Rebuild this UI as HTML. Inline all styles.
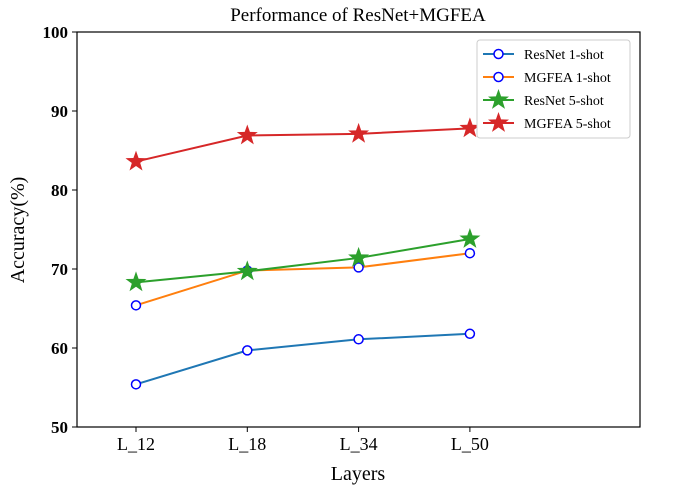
<!DOCTYPE html>
<html><head><meta charset="utf-8"><style>body{margin:0;background:#fff}svg{display:block}</style></head>
<body>
<svg id="chart" width="673" height="488" xmlns="http://www.w3.org/2000/svg" font-family="Liberation Serif, serif">
<text x="358" y="21" text-anchor="middle" font-size="19">Performance of ResNet+MGFEA</text>
<rect x="77" y="32" width="563" height="395" fill="none" stroke="#000" stroke-width="1.2"/>
<g id="yticks"></g><g id="xticks"></g><g id="series"></g>
<text x="358" y="480" text-anchor="middle" font-size="20">Layers</text>
<text transform="translate(24,230) rotate(-90)" text-anchor="middle" font-size="20">Accuracy(%)</text>
<g id="legend">
<rect x="477" y="40" width="153" height="98" rx="3" fill="#fff" stroke="#ccc"/>
</g>
</svg>
<script>
const categories=["L_12","L_18","L_34","L_50"];
const yTicks=[50,60,70,80,90,100];
const resnet1=[55.4,59.7,61.1,61.8];
const mgfea1=[65.4,69.8,70.2,72.0];
const resnet5=[68.3,69.7,71.4,73.8];
const mgfea5=[83.6,86.9,87.1,87.8];
const NS="http://www.w3.org/2000/svg";
function X(i){return 136+i*111.3;}
function Y(v){return 427-(v-50)*7.9;}
function mk(t,a,p){const e=document.createElementNS(NS,t);for(const k in a)e.setAttribute(k,a[k]);p.appendChild(e);return e;}
const yg=document.getElementById('yticks');
yTicks.forEach(v=>{const l=mk('line',{x1:72,x2:77,y1:Y(v),y2:Y(v),stroke:'#000'},yg);


const t=mk('text',{x:68,y:Y(v)+6,'text-anchor':'end','font-size':17,'font-weight':'bold'},yg);t.textContent=v;

});
const xg=document.getElementById('xticks');
categories.forEach((c,i)=>{mk('line',{x1:X(i),x2:X(i),y1:427,y2:432,stroke:'#000'},xg);
const t=mk('text',{x:X(i),y:450,'text-anchor':'middle','font-size':18},xg);t.textContent=c;

});
function star(cx,cy,r){let p=[];for(let k=0;k<10;k++){const rr=k%2?r*0.4:r;const a=-Math.PI/2+k*Math.PI/5;p.push((cx+rr*Math.cos(a)).toFixed(1)+','+(cy+rr*Math.sin(a)).toFixed(1));}return p.join(' ');}
const sg=document.getElementById('series');
const defs=[[resnet1,'#1f77b4','o','resnet-1-shot','ResNet 1-shot'],[mgfea1,'#ff7f0e','o','mgfea-1-shot','MGFEA 1-shot'],[resnet5,'#2ca02c','s','resnet-5-shot','ResNet 5-shot'],[mgfea5,'#d62728','s','mgfea-5-shot','MGFEA 5-shot']];
const lg=document.getElementById('legend');
defs.forEach((d,j)=>{const g=mk('g',{},sg);


mk('polyline',{points:d[0].map((v,i)=>X(i)+','+Y(v)).join(' '),fill:'none',stroke:d[1],'stroke-width':2},g);
d[0].forEach((v,i)=>{let m;if(d[2]=='o')m=mk('circle',{cx:X(i),cy:Y(v),r:4.5,fill:'#fff',stroke:'#00f','stroke-width':1.5},g);
else m=mk('polygon',{points:star(X(i),Y(v),11),fill:d[1]},g);

});
const ly=[54,77,100,123][j];
const le=mk('g',{},lg);


mk('line',{x1:483,x2:514,y1:ly,y2:ly,stroke:d[1],'stroke-width':2},le);
if(d[2]=='o')mk('circle',{cx:498.5,cy:ly,r:4.5,fill:'#fff',stroke:'#00f','stroke-width':1.5},le);
else mk('polygon',{points:star(498.5,ly,11),fill:d[1]},le);
const t=mk('text',{x:524,y:ly+5,'font-size':14},le);t.textContent=d[4];});
</script>
</body></html>
